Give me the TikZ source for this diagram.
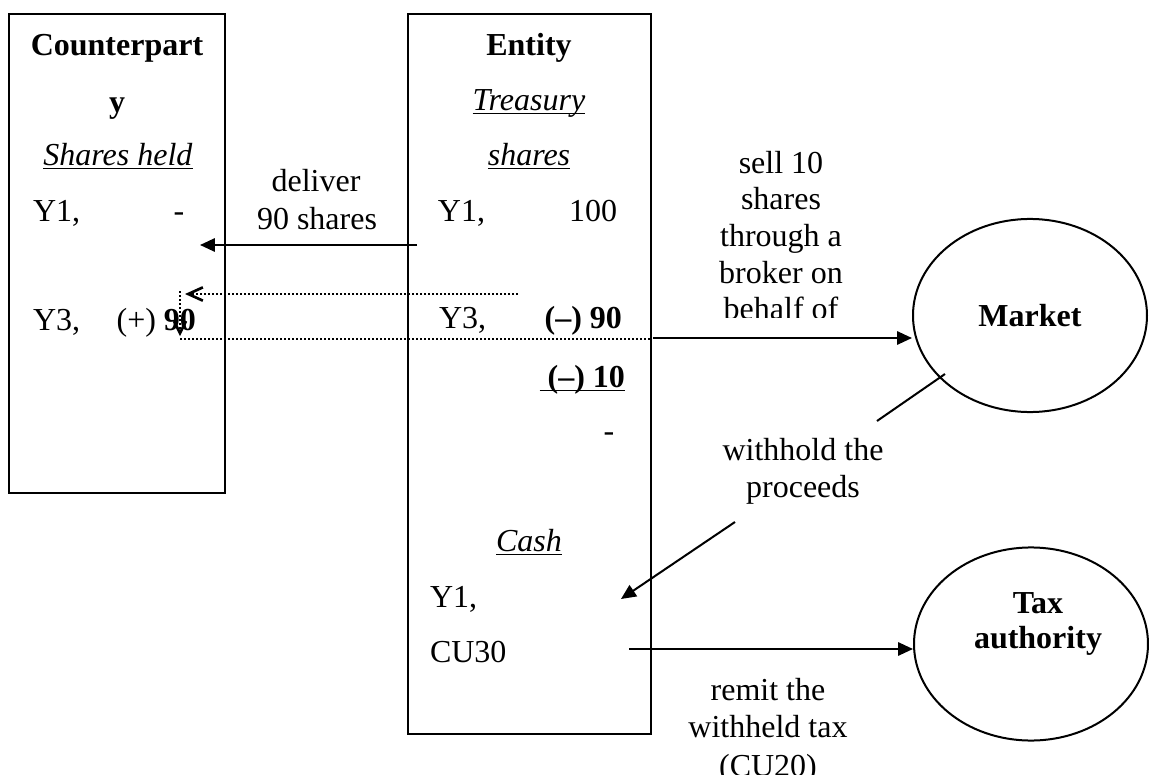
\documentclass[tikz,border=0pt]{standalone}
\usepackage{fontspec}
\setmainfont{Liberation Serif}
\usetikzlibrary{arrows.meta,shapes.geometric}
\newcommand{\ulbox}[1]{\underline{\smash{#1}}}

\begin{document}
\begin{tikzpicture}[x=0.375pt, y=-0.375pt, line width=0.75pt,
  font=\fontsize{12pt}{13.8pt}\selectfont,
  txt/.style={inner sep=0pt, anchor=base},
  txtl/.style={inner sep=0pt, anchor=base west},
  txtr/.style={inner sep=0pt, anchor=base east},
  party/.style={draw, ellipse, inner sep=0pt, minimum width=87.75pt, minimum height=72.4pt},
  flow/.style={-{Triangle[length=5.6pt, width=5pt]}},
  dots/.style={dash pattern=on 0.75pt off 0.75pt},
]
\clip (0,0) rectangle (1149,775);

% the two accounts
\draw (9,14) rectangle (225,493);
\draw (408,14) rectangle (651,734);

% counterparty
\node[txt] (cp1) at (117,55) {\textbf{Counterpart}};
\node[txt] (cp2) at (117,112) {\textbf{y}};
\node[txt] (cpsh) at (118,165) {\ulbox{\textit{Shares held}}};
\node[txtl] (cpy1) at (32,221) {Y1,};
\node[txt] (cpy1v) at (179,221) {-};
\node[txtl] (cpy3) at (32,330) {Y3,};
\node[txtr] (cpy3v) at (197,330) {(+) \textbf{90}};

% entity
\node[txt] (en1) at (529,55) {\textbf{Entity}};
\node[txt] (en2) at (529,110) {\ulbox{\textit{Treasury}}};
\node[txt] (en3) at (529,165) {\ulbox{\textit{shares}}};
\node[txtl] (eny1) at (437,221) {Y1,};
\node[txtr] (eny1v) at (618,221) {100};
\node[txtl] (eny3) at (438,328) {Y3,};
\node[txtr] (eny3v) at (623,328) {\textbf{(–) 90}};
\node[txtr] (enbal) at (626,387) {\ulbox{\textbf{\ (–) 10}}};
\node[txt] (ennil) at (609,441) {-};
\node[txt] (cash) at (529,551) {\ulbox{\textit{Cash}}};
\node[txtl] (cashy1) at (429,607) {Y1,};
\node[txtl] (cashcu) at (429,662) {CU30};

% outside parties
\node[party] (mkt) at (1030,315.5) {\textbf{Market}};
\node[party] (tax) at (1031,644) {};
\node[txt] (tax1) at (1038,613) {\textbf{Tax}};
\node[txt] (tax2) at (1038,648) {\textbf{authority}};

% delivery to counterparty
\coordinate (delA) at (417,245);
\coordinate (delB) at (200,245);
\draw[flow] (delA) -- (delB);
\node[txt] (del1) at (316,191) {deliver};
\node[txt] (del2) at (317,229) {90 shares};

% dotted transfer
\coordinate (rtA) at (518,294);
\coordinate (rtB) at (185,294);
\coordinate (rtC) at (180,291);
\coordinate (rtD) at (180,336);
\coordinate (rtE) at (180,339);
\coordinate (rtF) at (651,339);
\draw[dots, -{Straight Barb[length=5.5pt, width=5pt, line width=1pt]}] (rtA) -- (rtB);
\draw[dots, -{Straight Barb[length=4.5pt, width=4.5pt, line width=1pt]}] (rtC) -- (rtD);
\draw[dots] (rtE) -- (rtF);

% sale on the market
\coordinate (sellA) at (653,338);
\draw[flow] (sellA) -- (sellA -| mkt.west);
\begin{scope}
\clip (690,140) rectangle (880,317);
\foreach \t [count=\i] in {sell 10, shares, through a, broker on, behalf of}
  \node[txt] (sell\i) at (781,{173+36.7*(\i-1)}) {\t};
\end{scope}

% proceeds withheld
\coordinate (wdA) at (945,374);
\coordinate (wdB) at (877,421);
\coordinate (wdC) at (735,522);
\coordinate (wdD) at (621,599);
\draw (wdA) -- (wdB);
\draw[flow] (wdC) -- (wdD);
\node[txt] (wd1) at (803,460) {withhold the};
\node[txt] (wd2) at (803,497) {proceeds};

% tax remitted
\coordinate (remA) at (629,649);
\draw[flow] (remA) -- (remA -| tax.west);
\node[txt] (rem1) at (768,700) {remit the};
\node[txt] (rem2) at (768,737) {withheld tax};
\node[txt] (rem3) at (768,776) {(CU20)};
\end{tikzpicture}
\end{document}
